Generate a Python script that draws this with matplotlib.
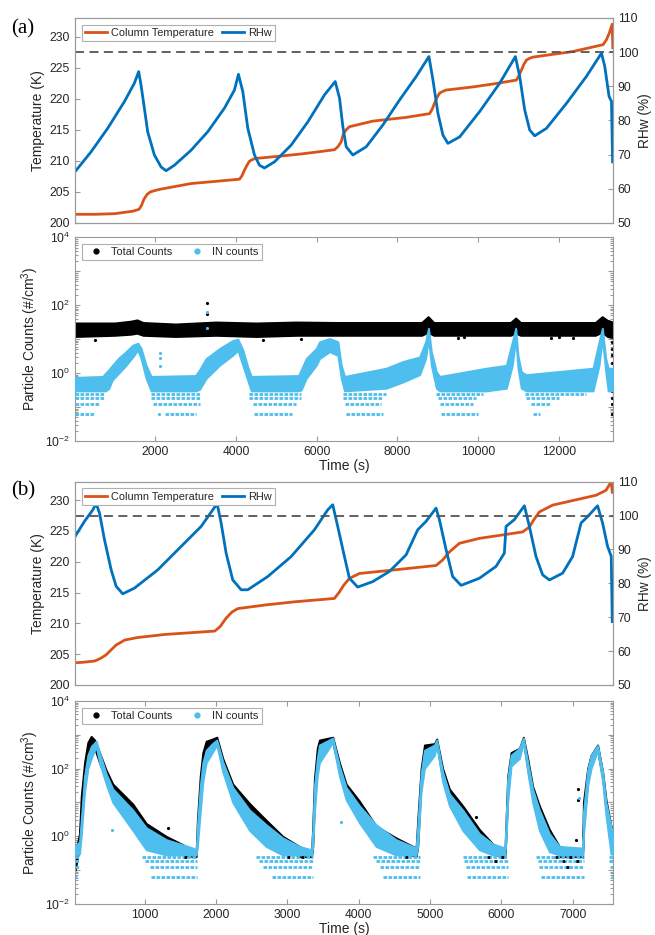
import matplotlib
matplotlib.use("Agg")
import matplotlib.pyplot as plt
from matplotlib.lines import Line2D

plt.rcParams["font.family"] = ["Liberation Sans", "DejaVu Sans"]
plt.rcParams["mathtext.default"] = "regular"

ORG, BLU, LBLU = "#D95319", "#0072BD", "#4DBEEE"
FRAME, TXT = "#9a9a9a", "#262626"
LEVELS = [0.0625, 0.125, 0.1875, 0.25]

# ---------------- (a) temperature / RHw ----------------
ta_T = [15, 500, 1000, 1450, 1600, 1660, 1720, 1800, 1880, 1980, 2100, 2890, 3500, 4088, 4150,
        4212, 4275, 4336, 4420, 4501, 5000, 5600, 6100, 6443, 6530, 6609, 6660, 6730, 6814,
        7392, 8219, 8797, 8860, 8921, 8980, 9046, 9130, 9211, 9871, 10400, 10947, 11010,
        11071, 11130, 11195, 11270, 11360, 12350, 13094, 13178, 13250, 13320, 13335]
T_a = [201.4, 201.4, 201.5, 201.9, 202.2, 202.8, 203.8, 204.6, 205.0, 205.2, 205.4, 206.35,
       206.7, 207.05, 207.6, 208.5, 209.3, 209.95, 210.25, 210.4, 210.7, 211.1, 211.5, 211.8,
       212.3, 213.1, 214.3, 215.0, 215.5, 216.4, 217.0, 217.6, 218.3, 219.3, 220.2, 220.9,
       221.2, 221.4, 221.9, 222.4, 223.0, 223.7, 224.6, 225.5, 226.2, 226.5, 226.7, 227.6,
       228.7, 229.5, 230.6, 232.0, 228.2]
ta_RH = [15, 411, 824, 1237, 1485, 1592, 1650, 1733, 1815, 1981, 2147, 2271, 2477, 2890, 3302,
         3716, 3964, 4063, 4170, 4295, 4460, 4584, 4708, 4956, 5369, 5782, 6195, 6460, 6567,
         6649, 6732, 6897, 7228, 7641, 8054, 8468, 8781, 8880, 9004, 9128, 9252, 9542, 10037,
         10533, 10922, 11029, 11153, 11277, 11401, 11691, 12187, 12682, 13054, 13136, 13243,
         13302, 13330]
RH_a = [65.0, 70.8, 77.7, 85.5, 90.9, 94.3, 90.4, 83.6, 76.7, 69.9, 66.4, 65.3, 66.9, 71.3, 76.7,
        83.6, 88.9, 93.5, 88.5, 77.7, 69.9, 66.9, 66.1, 67.9, 72.8, 79.6, 87.5, 91.4, 86.5,
        78.2, 72.3, 69.9, 72.3, 78.7, 86.0, 92.9, 98.7, 91.9, 82.1, 75.7, 73.3, 75.2, 82.6,
        90.9, 98.7, 92.9, 83.1, 77.2, 75.5, 77.7, 85.0, 92.9, 99.7, 95.8, 87.0,
        85.6, 67.9]

# ---------------- (a) particle counts ----------------
ta_tot = [15, 1000, 1400, 1550, 1700, 2500, 3500, 4500, 5500, 6500, 7500, 8600, 8760, 8900,
          10800, 10930, 11050, 12900, 13070, 13200, 13340]
tot_a_lo = [12, 13, 14, 15, 13, 12, 13, 12, 13, 13, 13, 13, 16, 13, 13, 15, 13, 13, 16, 12, 11]
tot_a_hi = [30, 30, 34, 37, 31, 28, 32, 30, 32, 31, 31, 31, 46, 31, 31, 42, 31, 31, 46, 36, 32]

ta_in = [15, 700, 770, 850, 940, 1100, 1280, 1446, 1570, 1651, 1776, 1900, 3000, 3098, 3263,
         3594, 3924, 4048, 4172, 4296, 4380, 5550, 5617, 5741, 5989, 6072, 6320, 6526, 6609,
         6690, 7724, 8137, 8550, 8699, 8770, 8840, 8964, 9045, 10203, 10698, 10846, 10930,
         10986, 11068, 11190, 12845, 12994, 13076, 13160, 13220, 13340]
in_a_lo = [0.3, 0.3, 0.3, 0.35, 0.63, 1.0, 1.7, 3.0, 4.8, 2.7, 0.7, 0.3, 0.3, 0.33, 0.7,
           1.7, 3.4, 4.7, 1.7, 0.6, 0.3, 0.3, 0.32, 0.7, 1.7, 2.7, 4.3, 3.3, 0.7,
           0.3, 0.36, 0.55, 0.9, 2.7, 10.5, 1.7, 0.36, 0.3, 0.3, 0.36, 1.7, 10.5,
           1.4, 0.36, 0.3, 0.3, 1.7, 10.5, 1.1, 0.3, 0.3]
in_a_hi = [0.75, 0.8, 1.0, 1.25, 1.7, 2.8, 4.3, 6.7, 7.6, 5.4, 1.7, 0.8, 0.85, 1.25, 2.7,
           5.3, 9.2, 10.0, 4.8, 1.5, 0.8, 0.85, 1.25, 2.7, 5.3, 8.4, 10.5, 8.4, 1.7,
           0.8, 1.4, 2.2, 3.0, 8.4, 21, 4.3, 1.1, 0.8, 1.4, 1.7, 8.4, 21,
           3.3, 1.1, 0.9, 1.4, 8.4, 21, 2.7, 1.4, 1.4]

rows_a = {
    0.25:   [(15, 770), (1900, 3100), (4320, 5620), (6650, 7725), (8960, 10120), (11150, 12680)],
    0.1875: [(15, 760), (1900, 3100), (4320, 5620), (6650, 7640), (9000, 9950), (11190, 12010)],
    0.125:  [(15, 640), (1940, 3100), (4420, 5500), (6690, 7600), (9045, 9870), (11310, 11770)],
    0.0625: [(15, 520), (2250, 3000), (4460, 5400), (6730, 7640), (9090, 10000), (11360, 11520)],
}
out_a_tot_t = [3290, 3290, 500, 4680, 5620, 9500, 9650, 11800, 12000, 12350,
               13325, 13325, 13325, 13325, 13325, 13325, 13325, 13325, 13325, 13325]
out_a_tot_v = [115, 54, 9.5, 9.5, 10, 11, 11.5, 11, 11.5, 11,
               8, 5, 3.5, 2, 1, 0.3, 0.18, 0.12, 0.0625, 0.45]
out_a_in_t = [3290, 3290, 2130, 2130, 2130, 2100]
out_a_in_v = [62, 21, 3.8, 2.7, 1.6, 0.0625]

# ---------------- (b) temperature / RHw ----------------
tb_T = [25, 150, 304, 380, 462, 540, 602, 724, 900, 1282, 1600, 1984, 2060, 2140, 2220, 2306,
        2700, 3100, 3660, 3731, 3791, 3871, 4011, 4431, 5085, 5178, 5272, 5412, 5692, 6299,
        6393, 6460, 6533, 6719, 7327, 7467, 7540, 7555]
T_b = [203.6, 203.7, 203.9, 204.3, 204.9, 205.8, 206.5, 207.3, 207.7, 208.2, 208.45, 208.75,
       209.5, 210.8, 211.8, 212.4, 213.0, 213.5, 214.05, 215.1, 216.2, 217.3, 218.1, 218.6,
       219.4, 220.3, 221.6, 223.0, 223.8, 224.85, 225.65, 226.9, 228.1, 229.2, 230.8, 231.6,
       233.0, 231.3]
tb_RH = [25, 158, 275, 322, 368, 438, 532, 602, 695, 859, 1186, 1513, 1793, 1956, 2017, 2073,
         2143, 2236, 2354, 2446, 2726, 3054, 3380, 3567, 3637, 3707, 3801, 3871, 3987, 4197,
         4431, 4665, 4828, 4945, 5085, 5132, 5226, 5318, 5436, 5692, 5926, 6042, 6066, 6182,
         6323, 6393, 6486, 6579, 6673, 6859, 6999, 7117, 7209, 7349, 7419, 7489, 7540, 7555]
RH_b = [93.8, 98.3, 101.7, 103.5, 100.8, 92.9, 84.0, 79.1, 76.9, 78.6, 84.0, 90.9, 96.8, 101.7,
        103.5, 97.8, 88.9, 81.0, 78.1, 78.1, 82.0, 87.9, 95.8, 101.7, 103.2, 96.8, 87.9, 81.5,
        78.9, 80.5, 83.5, 88.4, 95.8, 98.3, 102.2, 98.8, 89.9, 82.0, 79.4, 81.5, 85.0, 88.9,
        96.8, 98.8, 102.9, 96.8, 87.9, 82.5, 81.0, 83.0, 87.9, 97.8, 99.7, 102.9, 97.8, 90.9,
        88.0, 68.7]

# ---------------- (b) particle counts ----------------
tb_tot = [28, 88, 112, 158, 205, 252, 300, 368, 462, 555, 835, 1023, 1303, 1676, 1723, 1740,
          1780, 1816, 1863, 1950, 2012, 2096, 2236, 2470, 2704, 2936, 3170, 3340, 3357, 3380,
          3420, 3450, 3637, 3731, 3825, 4011, 4245, 4525, 4805, 4828, 4875, 4922, 5062, 5094,
          5178, 5272, 5458, 5692, 5878, 6050, 6066, 6089, 6136, 6253, 6309, 6369, 6439, 6533,
          6673, 6813, 7139, 7150, 7209, 7257, 7349, 7420, 7467, 7537, 7565]
tot_b_lo = [0.1, 0.5, 5, 60, 300, 600, 400, 150, 50, 20, 5, 1.2, 0.4, 0.25, 0.25, 1,
            20, 150, 400, 550, 650, 100, 20, 4.7, 1.5, 0.5, 0.25, 0.25, 0.5, 10,
            150, 280, 600, 80, 20, 6, 1.2, 0.4, 0.25, 0.5, 40, 250, 350, 550,
            50, 12, 4, 0.8, 0.3, 0.25, 1, 20, 150, 250, 650, 100, 15, 4,
            0.8, 0.25, 0.25, 2, 40, 150, 350, 50, 6, 0.5, 0.3]
tot_b_hi = [0.3, 1.2, 15, 150, 600, 900, 700, 300, 90, 35, 9, 2.4, 1.0, 0.4, 0.35, 3,
            60, 300, 650, 750, 850, 200, 35, 9.4, 3, 1.0, 0.5, 0.35, 2, 50,
            400, 700, 850, 150, 35, 11, 2, 0.9, 0.45, 3, 100, 500, 550, 750,
            100, 25, 8, 1.6, 0.6, 0.35, 3, 60, 300, 400, 850, 200, 30, 8,
            1.6, 0.5, 0.35, 10, 100, 250, 500, 80, 12, 2, 1.5]

tb_in = [28, 88, 112, 158, 205, 252, 322, 368, 462, 555, 835, 1023, 1303, 1676, 1723, 1740,
         1780, 1816, 1863, 1950, 2012, 2096, 2236, 2470, 2704, 2936, 3170, 3340, 3357, 3380,
         3420, 3450, 3637, 3731, 3825, 4011, 4245, 4525, 4805, 4828, 4875, 4922, 5062, 5094,
         5178, 5272, 5458, 5692, 5878, 6050, 6066, 6089, 6136, 6253, 6309, 6369, 6439, 6533,
         6673, 6813, 7139, 7150, 7209, 7257, 7349, 7420, 7467, 7537, 7565]
in_b_lo = [0.28, 0.3, 1, 20, 100, 200, 450, 150, 35, 10, 1.5, 0.4, 0.28, 0.28, 0.28, 0.5,
           5, 40, 150, 300, 500, 80, 10, 1.5, 0.5, 0.28, 0.28, 0.28, 0.5, 5,
           60, 150, 600, 60, 12, 2.5, 0.5, 0.28, 0.28, 0.5, 20, 100, 250, 500,
           40, 8, 1.5, 0.4, 0.28, 0.28, 0.8, 10, 120, 200, 600, 80, 10, 1.5,
           0.35, 0.28, 0.28, 1, 30, 100, 350, 40, 4, 0.3, 0.3]
in_b_hi = [0.5, 0.7, 3, 60, 250, 450, 650, 300, 70, 25, 6, 1.8, 0.8, 0.45, 0.4, 2,
           30, 150, 350, 550, 700, 160, 28, 6, 2.2, 0.9, 0.5, 0.4, 1.5, 30,
           200, 500, 800, 120, 28, 8, 2.2, 0.8, 0.45, 2, 70, 350, 500, 700,
           80, 18, 6, 1.2, 0.6, 0.45, 3, 50, 250, 400, 800, 160, 25, 6,
           1.2, 0.5, 0.45, 5, 90, 250, 480, 80, 10, 2, 1.2]

rows_b = {
    0.25:   [(28, 90), (960, 1735), (2560, 3357), (4200, 4860), (5460, 6090), (6485, 7160), (7510, 7565)],
    0.1875: [(28, 85), (1000, 1735), (2600, 3357), (4245, 4860), (5480, 6090), (6510, 7160), (7510, 7565)],
    0.125:  [(28, 80), (1070, 1735), (2655, 3357), (4300, 4860), (5500, 6090), (6530, 7160), (7520, 7565)],
    0.0625: [(28, 60), (1095, 1735), (2780, 3357), (4335, 4860), (5520, 6090), (6560, 7160), (7530, 7565)],
}
rows_b_tot = {
    0.25:   [(1550, 1720), (3000, 3340), (4650, 4850), (5800, 6080), (6750, 7150)],
    0.1875: [(5900, 6080), (6850, 7140)],
    0.125:  [(6900, 7050)],
}
out_b_tot_t = [1330, 7070, 7080, 5645, 7050]
out_b_tot_v = [1.8, 25, 12, 3.8, 0.77]
out_b_in_t = [540, 3750, 7085]
out_b_in_v = [1.5, 2.7, 14]


def frame(ax):
    for s in ax.spines.values():
        s.set_color(FRAME)
        s.set_linewidth(0.8)


def top_panel(rect, tT, T, tR, RH, xlim):
    ax = fig.add_axes(rect)
    ax2 = ax.twinx()
    l1, = ax.plot(tT, T, color=ORG, lw=2.0, solid_joinstyle="round", label="Column Temperature")
    l2, = ax2.plot(tR, RH, color=BLU, lw=2.0, solid_joinstyle="round", label="RHw")
    ax2.axhline(100, color="#555555", ls=(0, (5, 3)), lw=1.3)
    ax.set_xlim(*xlim)
    ax.set_ylim(200, 233)
    ax2.set_ylim(50, 110)
    ax.set_yticks(range(200, 231, 5))
    ax2.set_yticks(range(50, 111, 10))
    ax.set_xticks([])
    for a in (ax, ax2):
        frame(a)
        a.tick_params(direction="in", length=3.5, width=0.8, color=FRAME,
                      labelcolor=TXT, labelsize=8.7)
    ax.set_ylabel("Temperature (K)", fontsize=10, color=TXT, labelpad=3)
    ax2.set_ylabel("RHw (%)", fontsize=9.8, color=TXT, labelpad=0)
    leg = ax2.legend(handles=[l1, l2], loc="upper left", ncol=2, fontsize=7.9,
                     frameon=True, fancybox=False, framealpha=1, edgecolor="#b0b0b0",
                     borderaxespad=0.6, borderpad=0.3, handlelength=2.0,
                     handletextpad=0.35, columnspacing=0.8)
    leg.get_frame().set_linewidth(0.8)
    for tx in leg.get_texts():
        tx.set_color(TXT)
    return ax


def count_panel(rect, t_tot, tlo, thi, t_in, ilo, ihi, rows, rows_tot,
                ot_t, ot_v, oi_t, oi_v, xlim, xticks):
    ax = fig.add_axes(rect)
    ax.fill_between(t_tot, tlo, thi, color="black", lw=1.4, zorder=2)
    ax.plot(ot_t, ot_v, "o", color="black", ms=2.3, mew=0, zorder=2)
    ax.fill_between(t_in, ilo, ihi, color=LBLU, lw=1.4, zorder=3)
    for lv in LEVELS:
        for s, e in rows.get(lv, []):
            ax.plot([s, e], [lv, lv], color=LBLU, lw=2.0, ls=(0, (1.3, 0.5)), zorder=3)
        for s, e in rows_tot.get(lv, []):
            ax.plot([s, e], [lv, lv], color="black", lw=2.0, ls=(0, (1, 4)), zorder=4)
    ax.plot(oi_t, oi_v, "o", color=LBLU, ms=2.3, mew=0, zorder=3)
    ax.set_yscale("log")
    ax.set_ylim(1e-2, 1e4)
    ax.set_xlim(*xlim)
    ax.set_xticks(xticks)
    ax.set_yticks([1e-2, 1e-1, 1, 1e1, 1e2, 1e3, 1e4])
    ax.set_yticklabels(["$10^{-2}$", "", "$10^{0}$", "", "$10^{2}$", "", "$10^{4}$"])
    ax.yaxis.set_minor_locator(matplotlib.ticker.LogLocator(base=10, subs=range(2, 10), numticks=20))
    ax.yaxis.set_minor_formatter(matplotlib.ticker.NullFormatter())
    frame(ax)
    ax.tick_params(which="both", direction="in", top=True, right=True, color=FRAME,
                   labelcolor=TXT, labelsize=8.7, width=0.8)
    ax.tick_params(which="major", length=3.5)
    ax.tick_params(which="minor", length=2.0)
    ax.set_ylabel("Particle Counts (#/cm$^3$)", fontsize=10, color=TXT, labelpad=3)
    ax.set_xlabel("Time (s)", fontsize=10, color=TXT, labelpad=1)
    h = [Line2D([], [], marker="o", ls="", color="black", ms=3.5),
         Line2D([], [], marker="o", ls="", color=LBLU, ms=3.5)]
    leg = ax.legend(h, ["Total Counts", "IN counts"], loc="upper left", ncol=2, fontsize=7.9,
                    frameon=True, fancybox=False, framealpha=1, edgecolor="#b0b0b0",
                    borderaxespad=0.6, borderpad=0.3, handlelength=2.0,
                    handletextpad=0.4, columnspacing=1.2)
    leg.get_frame().set_linewidth(0.8)
    leg.set_zorder(10)
    for tx in leg.get_texts():
        tx.set_color(TXT)
    return ax


fig = plt.figure(figsize=(6.55, 9.35), dpi=100)
L, W = 75 / 655, 538 / 655

top_panel([L, 0.7615, W, 0.2193], ta_T, T_a, ta_RH, RH_a, (15, 13340))
count_panel([L, 0.5283, W, 0.2179], ta_tot, tot_a_lo, tot_a_hi, ta_in, in_a_lo, in_a_hi,
            rows_a, {}, out_a_tot_t, out_a_tot_v, out_a_in_t, out_a_in_v,
            (15, 13340), range(2000, 12001, 2000))
top_panel([L, 0.2674, W, 0.2174], tb_T, T_b, tb_RH, RH_b, (25, 7565))
count_panel([L, 0.0332, W, 0.2171], tb_tot, tot_b_lo, tot_b_hi, tb_in, in_b_lo, in_b_hi,
            rows_b, rows_b_tot, out_b_tot_t, out_b_tot_v, out_b_in_t, out_b_in_v,
            (25, 7565), range(1000, 7001, 1000))

fig.text(11 / 655, 1 - 29 / 935, "(a)", family="Liberation Serif", fontsize=15, va="center", color="black")
fig.text(11 / 655, 1 - 491 / 935, "(b)", family="Liberation Serif", fontsize=15, va="center", color="black")

fig.savefig("out.png", dpi=100, facecolor="white")
